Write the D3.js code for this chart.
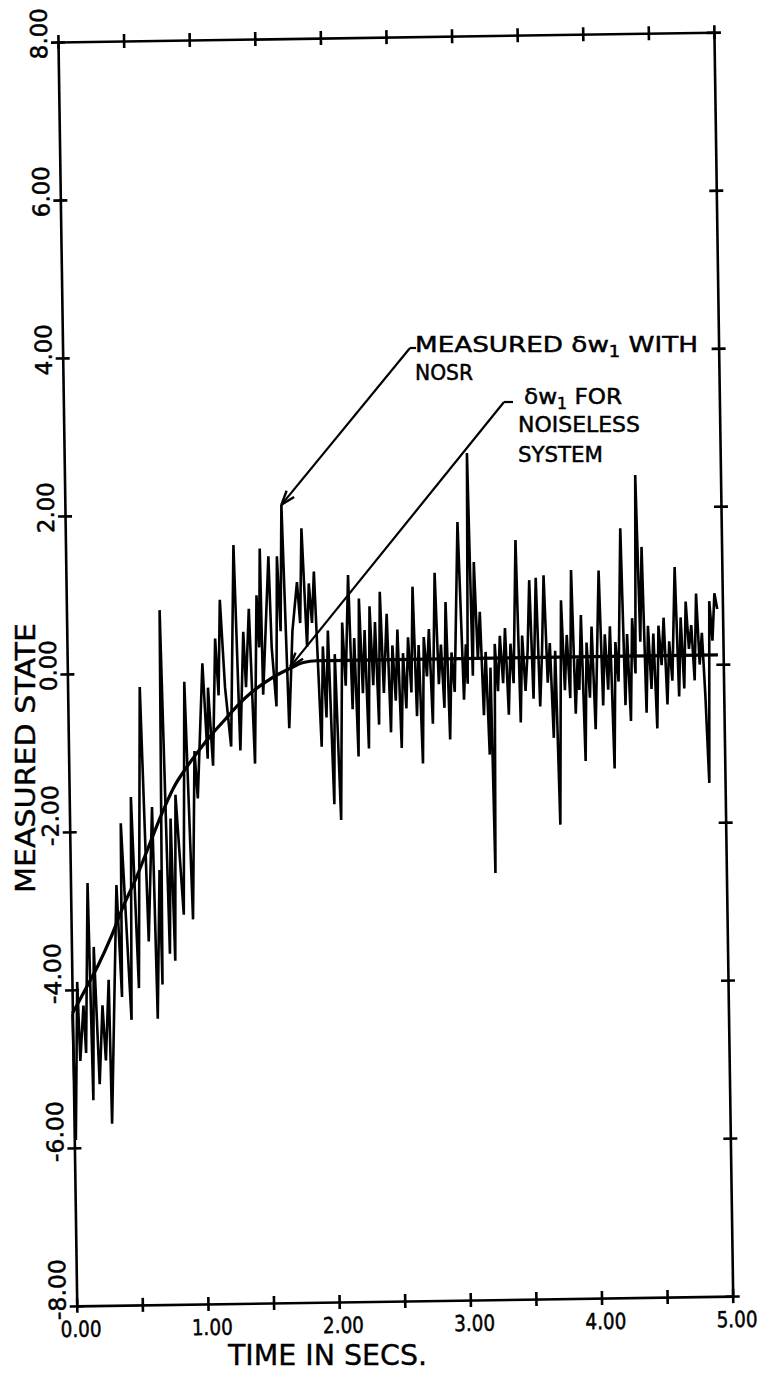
<!DOCTYPE html>
<html><head><meta charset="utf-8">
<script src="https://cdn.jsdelivr.net/npm/d3@7"></script>
<style>body{margin:0;background:#fff}</style>
</head><body>
<svg id="chart" width="767" height="1376"></svg>
<script>
// ---- data (peaks and troughs of the measured trace) ----
const measuredTimes = [
 0.000,0.012,0.040,0.055,0.085,0.100,0.130,0.150,0.170,0.200,
 0.230,0.250,0.280,0.290,0.350,0.380,0.390,0.450,0.470,0.510,
 0.550,0.590,0.630,0.650,0.680,0.690,0.710,0.750,0.770,0.790,
 0.810,0.860,0.890,0.930,0.960,0.980,1.030,1.060,1.070,1.100,
 1.130,1.150,1.170,1.200,1.240,1.280,1.310,1.345,1.360,1.390,
 1.420,1.450,1.465,1.480,1.490,1.545,1.560,1.590,1.610,1.630,
 1.650,1.685,1.720,1.760,1.780,1.800,1.830,1.850,1.870,1.890,
 1.930,1.950,1.970,1.990,2.020,2.040,2.070,2.100,2.120,2.150,
 2.170,2.190,2.210,2.230,2.250,2.270,2.290,2.310,2.330,2.350,
 2.370,2.390,2.410,2.440,2.460,2.480,2.500,2.520,2.540,2.560,
 2.580,2.600,2.620,2.640,2.660,2.680,2.700,2.720,2.740,2.760,
 2.780,2.810,2.830,2.850,2.870,2.890,2.910,2.930,2.950,2.990,
 3.020,3.040,3.050,3.070,3.090,3.110,3.130,3.150,3.170,3.190,
 3.210,3.225,3.240,3.260,3.280,3.300,3.320,3.340,3.360,3.380,
 3.400,3.430,3.450,3.470,3.490,3.510,3.530,3.550,3.580,3.600,
 3.620,3.640,3.660,3.680,3.700,3.720,3.740,3.770,3.790,3.810,
 3.830,3.850,3.870,3.890,3.900,3.920,3.940,3.960,3.980,4.000,
 4.020,4.040,4.060,4.080,4.100,4.120,4.140,4.160,4.180,4.200,
 4.230,4.250,4.270,4.290,4.310,4.330,4.350,4.370,4.390,4.410,
 4.430,4.450,4.470,4.490,4.510,4.530,4.550,4.570,4.590,4.610,
 4.640,4.660,4.680,4.700,4.720,4.740,4.760,4.780,4.800,4.820,
 4.840,4.860,4.880,4.900,4.920,4.940,4.960
];
const measuredValues = [
 -4.3,-5.9,-3.9,-4.9,-4.2,-4.8,-2.65,-5.4,-3.46,-5.2,
 -4.2,-4.9,-3.88,-5.7,-2.68,-4.1,-1.9,-4.39,-1.57,-3.99,
 -0.18,-3.4,-1.7,-4.38,-2.5,-3.95,0.79,-3.56,-1.85,-3.65,
 -1.55,-3.07,-0.12,-3.13,-1.0,-1.6,0.11,-1.1,-0.2,-1.19,
 0.42,-0.3,0.91,-0.2,-0.95,1.6,-1.0,0.5,-0.2,0.79,
 -1.17,0.96,0.3,1.55,-0.3,1.45,0.3,-0.45,1.45,0.5,
 2.1,-0.73,0.5,1.12,0.6,1.8,0.3,1.1,0.6,1.25,
 -0.97,0.3,-0.6,0.5,-1.7,0.2,-1.9,0.6,-0.2,1.2,
 -0.5,0.4,-1.1,0.9,-0.3,0.5,-1.0,0.8,-0.2,0.6,
 -0.7,0.98,-0.3,0.7,-0.8,0.3,-0.4,0.5,-1.0,0.2,
 -0.5,0.4,-0.3,1.04,-0.6,0.3,-1.2,0.4,-0.1,0.5,
 -0.7,1.21,-0.2,0.3,-0.5,0.84,-0.9,0.2,-0.3,1.85,
 -0.4,0.3,-0.2,2.72,-0.1,1.34,0.1,0.71,-0.6,0.2,
 -1.1,0.0,-2.6,0.3,-0.3,0.4,-0.2,0.5,-0.6,0.3,
 -0.2,1.61,-0.7,0.4,-0.3,0.2,1.1,-0.4,1.13,-0.5,
 0.2,1.16,-0.2,0.3,-0.9,0.2,-2.0,0.84,-0.3,0.4,
 -0.4,1.22,-0.6,0.1,-0.3,0.65,-1.2,0.3,-0.4,0.5,
 -0.8,0.2,1.21,-0.5,0.4,-0.3,0.5,-1.3,0.3,-0.2,
 1.74,-0.5,0.4,-0.7,0.6,-0.1,2.41,0.3,1.5,-0.6,
 0.5,-0.3,0.4,-0.8,0.5,0.0,0.6,-0.5,0.3,-0.2,
 1.24,-0.4,0.6,-0.3,0.8,0.2,0.5,-0.2,0.9,0.0,
 0.4,-0.4,-1.5,0.8,0.3,0.9,0.7
];
const noiselessTimes = [0,0.1,0.2,0.3,0.4,0.5,0.6,0.7,0.8,0.9,1.0,1.1,1.2,1.3,1.4,1.5,1.6,1.7,1.8,1.9,2.0,3.0,4.0,4.96];
const noiselessValues = [-4.3,-4.0,-3.7,-3.35,-2.95,-2.6,-2.2,-1.8,-1.45,-1.2,-0.98,-0.78,-0.6,-0.42,-0.27,-0.15,-0.05,0.03,0.1,0.12,0.12,0.12,0.12,0.12];
const xTickValues = [0,0.5,1,1.5,2,2.5,3,3.5,4,4.5,5];
const xLabelValues = [0,1,2,3,4,5];
const xLabels = ["0.00","1.00","2.00","3.00","4.00","5.00"];
const yTickValues = [-8,-6,-4,-2,0,2,4,6,8];
const yLabels = ["-8.00","-6.00","-4.00","-2.00","0.00","2.00","4.00","6.00","8.00"];
const xTitle = "TIME IN SECS.";
const yTitle = "MEASURED STATE";

// ---- layout ----
const W = 656, H = 1264;
const svg = d3.select("#chart");
svg.append("rect").attr("width",767).attr("height",1376).attr("fill","#fff");
const g = svg.append("g").attr("transform","translate(58,42) rotate(-0.85)");

const x = d3.scaleLinear().domain([0,5]).range([0,W]);
const y = d3.scaleLinear().domain([-8,8]).range([H,0]);

const font = "'DejaVu Sans', sans-serif";

function crossify(sel, dir){
  sel.select(".domain").attr("stroke","#000").attr("stroke-width",2.6);
  sel.selectAll(".tick line").attr("stroke","#000").attr("stroke-width",2.6);
  if(dir==="h") sel.selectAll(".tick line").attr("y1",-7).attr("y2",7);
  else sel.selectAll(".tick line").attr("x1",-7).attr("x2",7);
  sel.selectAll(".tick text").remove();
}
g.append("g").attr("transform",`translate(0,${H})`)
  .call(d3.axisBottom(x).tickValues(xTickValues).tickSizeOuter(0).tickSizeInner(7))
  .call(s=>crossify(s,"h"));
g.append("g")
  .call(d3.axisTop(x).tickValues(xTickValues).tickSizeOuter(0).tickSizeInner(7))
  .call(s=>crossify(s,"h"));
g.append("g")
  .call(d3.axisLeft(y).tickValues(yTickValues).tickSizeOuter(0).tickSizeInner(7))
  .call(s=>crossify(s,"v"));
g.append("g").attr("transform",`translate(${W},0)`)
  .call(d3.axisRight(y).tickValues(yTickValues).tickSizeOuter(0).tickSizeInner(7))
  .call(s=>crossify(s,"v"));

// x labels
g.selectAll("text.xl").data(xLabelValues).enter().append("text")
  .attr("class","xl")
  .attr("x",d=>x(d)+4).attr("y",H+31)
  .attr("text-anchor","middle")
  .attr("font-family",font).attr("font-size",22)
  .attr("stroke","#000").attr("stroke-width",0.5)
  .attr("textLength",41).attr("lengthAdjust","spacingAndGlyphs")
  .text((d,i)=>xLabels[i]);

// y labels (rotated)
g.selectAll("text.yl").data(yTickValues).enter().append("text")
  .attr("class","yl")
  .attr("transform",(d)=>`translate(-11,${y(d)+(d<0?14:17)}) rotate(-90)`)
  .attr("text-anchor","start")
  .attr("font-family",font).attr("font-size",23)
  .attr("stroke","#000").attr("stroke-width",0.5)
  .attr("textLength",d=>d<0?61:51).attr("lengthAdjust","spacingAndGlyphs")
  .text((d,i)=>yLabels[i]);

// lines
const measured = measuredTimes.map((t,i)=>({t, v:measuredValues[i]}));
const noiseless = noiselessTimes.map((t,i)=>({t, v:noiselessValues[i]}));
const line = d3.line().x(d=>x(d.t)).y(d=>y(d.v));
const smooth = d3.line().x(d=>x(d.t)).y(d=>y(d.v)).curve(d3.curveMonotoneX);
g.append("path").datum(measured).attr("d",line)
  .attr("fill","none").attr("stroke","#000").attr("stroke-width",2.6)
  .attr("stroke-linejoin","miter").attr("stroke-miterlimit",6);
g.append("path").datum(noiseless).attr("d",smooth)
  .attr("fill","none").attr("stroke","#000").attr("stroke-width",3.2);

// axis titles
svg.append("text").attr("x",228).attr("y",1365)
  .attr("font-family",font).attr("font-size",29)
  .attr("stroke","#000").attr("stroke-width",0.4)
  .attr("textLength",199).attr("lengthAdjust","spacingAndGlyphs").text(xTitle);
svg.append("text").attr("transform","translate(35,893) rotate(-90)")
  .attr("font-family",font).attr("font-size",27)
  .attr("stroke","#000").attr("stroke-width",0.4)
  .attr("textLength",270).attr("lengthAdjust","spacingAndGlyphs").text(yTitle);

// annotations
const ann = svg.append("g").attr("font-family",font).attr("font-size",22)
  .attr("fill","#000").attr("stroke","#000").attr("stroke-width",0.5);
function annText(xp, yp, parts, len){
  const t = ann.append("text").attr("x",xp).attr("y",yp).attr("textLength",len).attr("lengthAdjust","spacingAndGlyphs");
  parts.forEach(p=>{
    const ts = t.append("tspan").text(p.s);
    if(p.sub) ts.attr("font-size",15).attr("dy",5);
    if(p.after) ts.attr("dy",-5);
  });
}
annText(415,352,[{s:"MEASURED δw"},{s:"1",sub:true},{s:" WITH",after:true}],283);
annText(415,380,[{s:"NOSR"}],58);
annText(524,404,[{s:"δw"},{s:"1",sub:true},{s:" FOR",after:true}],98);
annText(518,432,[{s:"NOISELESS"}],122);
annText(518,462,[{s:"SYSTEM"}],85);

// leader arrows, tips placed through the scales
function arrow(x0,y0,tipT,tipV,tail){
  const p = svg.node().createSVGPoint();
  const m = g.node().getCTM();
  p.x = x(tipT); p.y = y(tipV);
  const q = p.matrixTransform(m);
  svg.append("line").attr("x1",x0+tail).attr("y1",y0).attr("x2",x0).attr("y2",y0).attr("stroke","#000").attr("stroke-width",2.2);
  svg.append("line").attr("x1",x0).attr("y1",y0).attr("x2",q.x).attr("y2",q.y).attr("stroke","#000").attr("stroke-width",2.2);
  const ang = Math.atan2(y0-q.y, x0-q.x);
  [0.33,-0.33].forEach(a=>{
    svg.append("line").attr("x1",q.x).attr("y1",q.y)
      .attr("x2",q.x+15*Math.cos(ang+a)).attr("y2",q.y+15*Math.sin(ang+a))
      .attr("stroke","#000").attr("stroke-width",2.4);
  });
}
arrow(410,348,1.65,2.1,6);
arrow(504,402,1.7,0.05,9);
</script>
</body></html>
